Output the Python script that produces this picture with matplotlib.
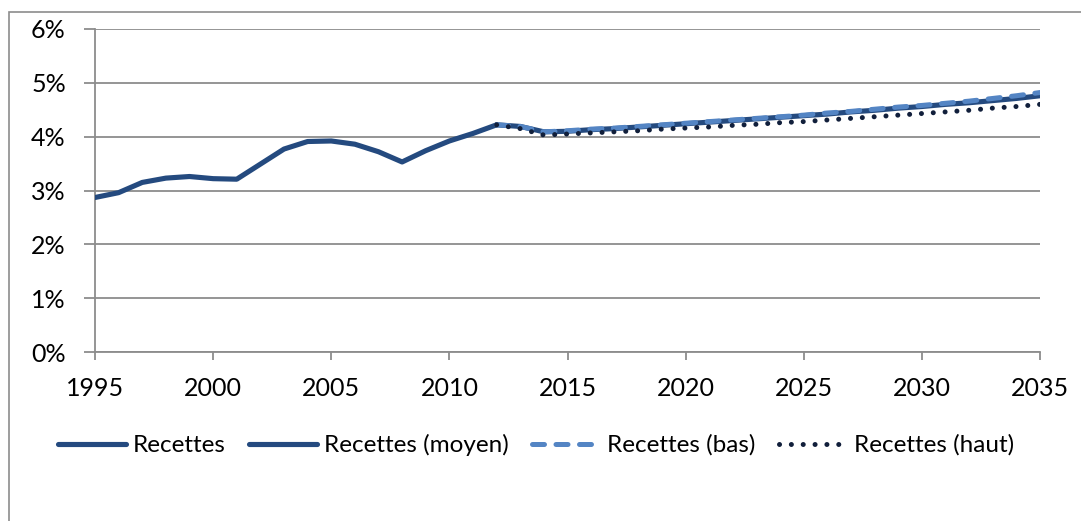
import matplotlib
matplotlib.use("Agg")
import matplotlib.pyplot as plt
from matplotlib.patches import Rectangle

plt.rcParams['font.family'] = ['Lato', 'DejaVu Sans']

# historique
annees_hist = list(range(1995, 2013))
recettes = [2.87, 2.96, 3.15, 3.23, 3.26, 3.22, 3.21, 3.49, 3.77, 3.91,
            3.92, 3.86, 3.72, 3.53, 3.74, 3.92, 4.06, 4.22]

# projections
annees_proj = list(range(2012, 2036))
moyen = [4.22, 4.19, 4.09, 4.10, 4.13, 4.15, 4.18, 4.21, 4.24, 4.27, 4.30, 4.33,
         4.36, 4.39, 4.42, 4.46, 4.49, 4.53, 4.56, 4.60, 4.63, 4.67, 4.71, 4.76]
bas = [4.22, 4.19, 4.09, 4.11, 4.14, 4.16, 4.19, 4.22, 4.25, 4.28, 4.31, 4.34,
       4.37, 4.40, 4.44, 4.47, 4.51, 4.55, 4.58, 4.62, 4.66, 4.71, 4.76, 4.82]
haut = [4.22, 4.15, 4.03, 4.05, 4.07, 4.09, 4.11, 4.14, 4.16, 4.18, 4.21, 4.23,
        4.26, 4.28, 4.31, 4.34, 4.37, 4.40, 4.43, 4.46, 4.49, 4.53, 4.56, 4.60]

labels = ['Recettes', 'Recettes (moyen)', 'Recettes (bas)', 'Recettes (haut)']
bleu_fonce = '#244a7f'
bleu_clair = '#5485c4'
marine = '#111f3b'
gris = '#8c8c8c'

fig = plt.figure(figsize=(10.81, 5.21), dpi=100)
ax = fig.add_axes([95 / 1081, 1 - 352 / 521, 945 / 1081, 323 / 521])

# cadre du graphique
fig.patches.append(Rectangle((9 / 1081, -0.1), 1.2, 1.1 - 12 / 521,
                             transform=fig.transFigure, fill=False,
                             edgecolor=gris, linewidth=1.2))

ax.plot(annees_hist, recettes, color=bleu_fonce, lw=3.7, label=labels[0],
        solid_capstyle='round', zorder=3)
ax.plot(annees_proj, moyen, color=bleu_fonce, lw=3.7, label=labels[1],
        solid_capstyle='round', zorder=3)
ax.plot(annees_proj, bas, color=bleu_clair, lw=3.6, label=labels[2],
        linestyle=(0, (2.4, 2.3)), dash_capstyle='round', zorder=4)
ax.plot(annees_proj, haut, color=marine, lw=3.6, label=labels[3],
        linestyle=(0, (0.01, 2.36)), dash_capstyle='round', zorder=5)

ax.set_xlim(1995, 2035)
ax.set_ylim(0, 6)
ax.set_xticks(range(1995, 2036, 5))
ax.set_yticks(range(0, 7))
ax.set_yticklabels([f'{v}%' for v in range(0, 7)])

ax.grid(axis='y', color=gris, lw=1.3)
ax.set_axisbelow(True)
for s in ['top', 'right']:
    ax.spines[s].set_visible(False)
for s in ['left', 'bottom']:
    ax.spines[s].set_color(gris)
    ax.spines[s].set_linewidth(1.3)
ax.tick_params(axis='both', colors=gris, labelcolor='black', labelsize=18,
               width=1.3)
ax.tick_params(axis='y', length=8, pad=13)
ax.tick_params(axis='x', length=6, pad=12)

ax.legend(loc='center', bbox_to_anchor=(536 / 1081, 1 - 445 / 521),
          bbox_transform=fig.transFigure, ncol=4, frameon=False,
          fontsize=17.5, handlelength=2.8, handletextpad=0.3,
          columnspacing=0.95, borderpad=0)

fig.savefig('out.png', dpi=100)
